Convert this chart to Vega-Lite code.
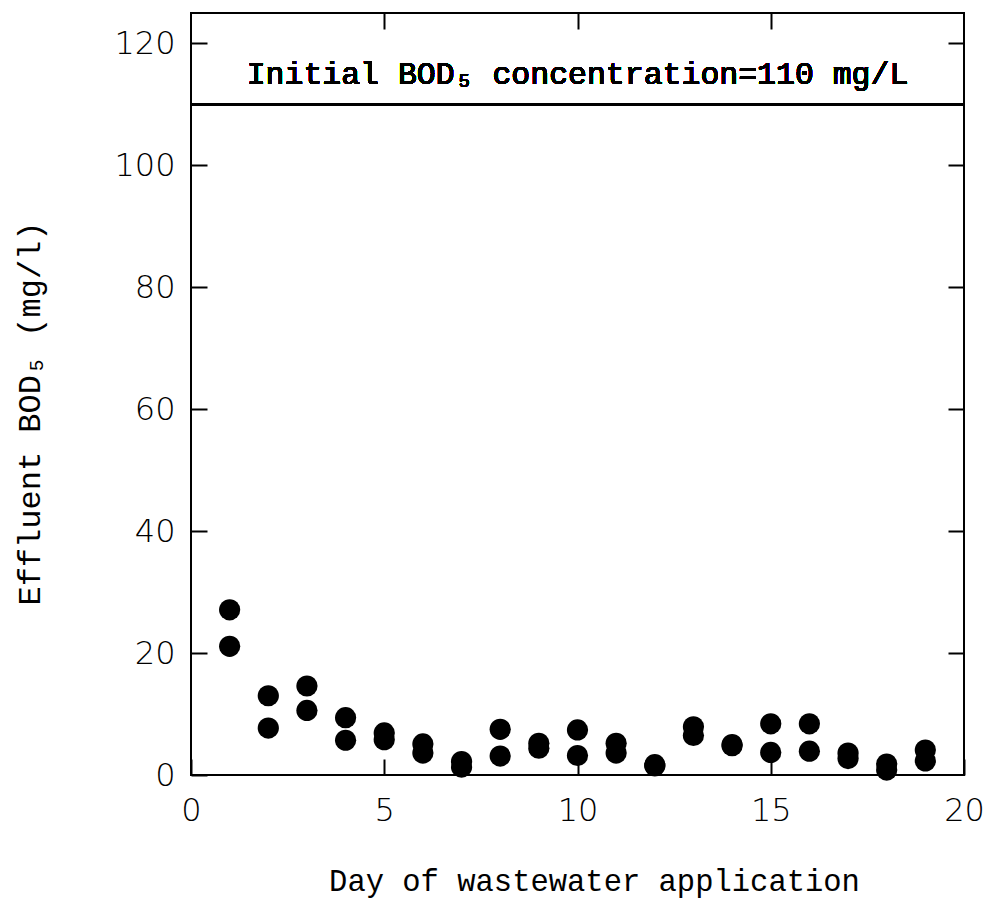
{
  "$schema": "https://vega.github.io/schema/vega-lite/v6.json",
  "width": 773,
  "height": 762,
  "autosize": "none",
  "padding": {"left": 191, "top": 13, "right": 22, "bottom": 126},
  "background": "white",
  "config": {
    "view": {"stroke": "black", "strokeWidth": 2},
    "axis": {
      "domain": false,
      "grid": false,
      "ticks": true,
      "tickSize": -16,
      "tickWidth": 2,
      "tickColor": "black",
      "labelFont": "DejaVu Sans",
      "labelFontWeight": 200,
      "labelFontSize": 32,
      "labelColor": "black",
      "labelFlush": false,
      "titleFont": "Liberation Mono",
      "titleFontSize": 30.5,
      "titleFontWeight": "normal",
      "titleColor": "black"
    }
  },
  "data": {
    "values": [
      {"day": 1, "bod": 27.1}, {"day": 1, "bod": 21.1},
      {"day": 2, "bod": 13.0}, {"day": 2, "bod": 7.7},
      {"day": 3, "bod": 14.6}, {"day": 3, "bod": 10.6},
      {"day": 4, "bod": 9.4}, {"day": 4, "bod": 5.7},
      {"day": 5, "bod": 6.9}, {"day": 5, "bod": 5.8},
      {"day": 6, "bod": 5.1}, {"day": 6, "bod": 3.6},
      {"day": 7, "bod": 2.2}, {"day": 7, "bod": 1.3},
      {"day": 8, "bod": 7.5}, {"day": 8, "bod": 3.1},
      {"day": 9, "bod": 5.2}, {"day": 9, "bod": 4.4},
      {"day": 10, "bod": 7.4}, {"day": 10, "bod": 3.2},
      {"day": 11, "bod": 5.2}, {"day": 11, "bod": 3.6},
      {"day": 12, "bod": 1.7}, {"day": 12, "bod": 1.5},
      {"day": 13, "bod": 7.9}, {"day": 13, "bod": 6.5},
      {"day": 14, "bod": 5.0}, {"day": 14, "bod": 4.8},
      {"day": 15, "bod": 8.4}, {"day": 15, "bod": 3.7},
      {"day": 16, "bod": 8.4}, {"day": 16, "bod": 3.9},
      {"day": 17, "bod": 3.6}, {"day": 17, "bod": 2.7},
      {"day": 18, "bod": 1.8}, {"day": 18, "bod": 0.8},
      {"day": 19, "bod": 4.1}, {"day": 19, "bod": 2.3}
    ]
  },
  "resolve": {"axis": {"x": "independent", "y": "independent"}},
  "layer": [
    {
      "mark": {"type": "point", "filled": true, "shape": "circle", "size": 450, "color": "black", "opacity": 1},
      "encoding": {
        "x": {
          "field": "day", "type": "quantitative",
          "scale": {"domain": [0, 20], "nice": false, "zero": false},
          "axis": {
            "orient": "bottom", "values": [0, 5, 10, 15, 20], "labelPadding": 36,
            "title": "Day of wastewater application",
            "titleX": 403, "titleY": 115, "titleBaseline": "alphabetic", "titleAnchor": "middle", "titleAlign": "center"
          }
        },
        "y": {
          "field": "bod", "type": "quantitative",
          "scale": {"domain": [0, 125], "nice": false, "zero": true},
          "axis": {
            "orient": "left", "values": [0, 20, 40, 60, 80, 100, 120], "labelPadding": 32,
            "title": "Effluent BOD₅  (mg/l)",
            "titleFontSize": 32,
            "titleAngle": 270, "titleX": -152, "titleY": 400, "titleBaseline": "alphabetic", "titleAlign": "center"
          }
        }
      }
    },
    {
      "mark": {"type": "rule", "color": "black", "strokeWidth": 2},
      "encoding": {
        "y": {"datum": 110, "type": "quantitative", "axis": null}
      }
    },
    {
      "mark": {"type": "text", "font": "Liberation Mono", "fontSize": 31.5, "fontWeight": "normal", "color": "black", "align": "center", "baseline": "middle"},
      "encoding": {
        "x": {"datum": 10, "type": "quantitative", "axis": {"orient": "top", "values": [5, 10, 15], "labels": false, "title": null}},
        "y": {"datum": 114.8, "type": "quantitative", "axis": {"orient": "right", "values": [20, 40, 60, 80, 100, 120], "labels": false, "title": null}},
        "text": {"value": "Initial BOD₅ concentration=110 mg/L"}
      }
    }
  ]
}
